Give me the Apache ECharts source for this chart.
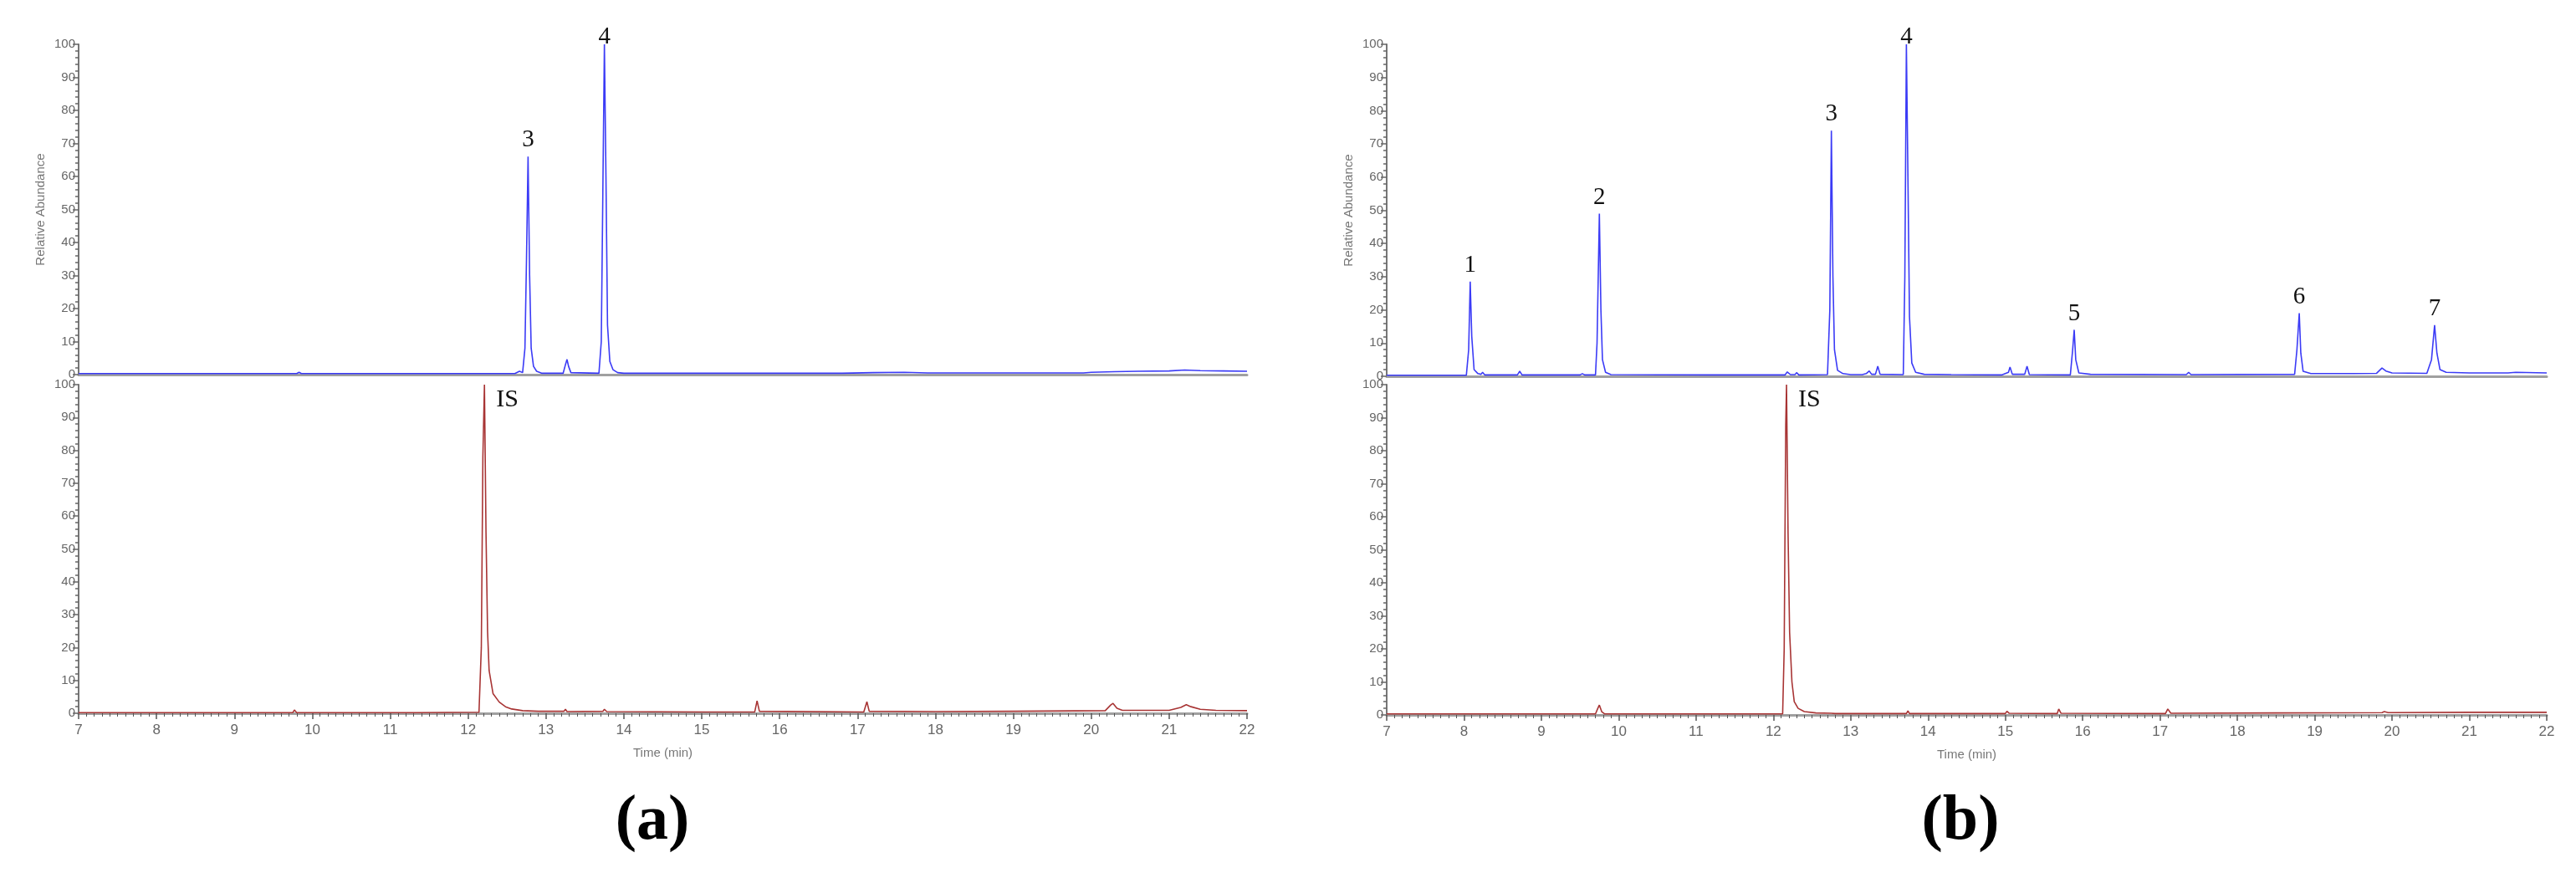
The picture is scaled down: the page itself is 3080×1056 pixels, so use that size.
<!DOCTYPE html>
<html>
<head>
<meta charset="utf-8">
<script src="https://cdn.jsdelivr.net/npm/echarts@6/dist/echarts.min.js"></script>
<style>
  html, body { margin: 0; padding: 0; background: #fff; }
  #chart { width: 3080px; height: 1056px; }
</style>
</head>
<body>
<div id="chart"></div>
<script>
// time (min), relative abundance (%)
var traceATop = [
  [7.00,0.3],[8.25,0.3],[8.27,0.7],[8.30,0.3],[9.80,0.3],[9.83,0.7],[9.86,0.3],
  [12.60,0.3],[12.66,1.0],[12.70,0.6],[12.73,8],[12.75,35],[12.77,66],[12.79,30],[12.81,8],
  [12.84,2.5],[12.88,1.0],[12.95,0.4],[13.22,0.4],[13.25,3],[13.27,4.6],[13.29,2.5],[13.32,0.6],
  [13.68,0.4],[13.71,10],[13.73,55],[13.75,100],[13.77,60],[13.79,15],[13.82,4],[13.86,1.5],
  [13.92,0.6],[14.00,0.4],[15.10,0.4],[16.80,0.4],[17.20,0.6],[17.60,0.7],[17.90,0.5],
  [19.90,0.5],[20.00,0.7],[20.30,0.9],[20.60,1.0],[21.00,1.1],[21.20,1.4],[21.40,1.2],
  [21.70,1.1],[22.00,1.0]
];
var traceABottom = [
  [7.00,0.2],[8.25,0.2],[8.27,0.6],[8.30,0.2],[8.47,0.2],[8.49,0.5],[8.51,0.2],
  [9.75,0.2],[9.77,1.0],[9.80,0.2],[11.30,0.2],[11.32,0.5],[11.34,0.2],
  [12.14,0.3],[12.17,20],[12.19,78],[12.21,100],[12.23,55],[12.25,25],[12.27,13],[12.32,6],
  [12.40,3.4],[12.48,2],[12.56,1.3],[12.70,0.8],[12.90,0.6],[13.23,0.6],[13.25,1.2],[13.27,0.5],
  [13.73,0.6],[13.75,1.2],[13.78,0.5],[15.05,0.4],[15.07,0.8],[15.10,0.4],
  [15.68,0.4],[15.71,3.8],[15.74,0.6],[17.08,0.4],[17.12,3.5],[17.15,0.6],
  [18.00,0.5],[19.00,0.6],[20.18,0.8],[20.25,2.5],[20.28,3.0],[20.33,1.5],[20.40,0.9],
  [21.00,0.9],[21.15,1.8],[21.22,2.6],[21.28,2.0],[21.40,1.2],[21.60,0.9],[22.00,0.8]
];
var traceBTop = [
  [7.00,0.3],[8.03,0.3],[8.06,8],[8.08,28.5],[8.10,12],[8.13,2],[8.18,0.8],[8.22,0.6],[8.24,1.2],
  [8.27,0.4],[8.69,0.4],[8.72,1.5],[8.75,0.4],[9.50,0.4],[9.53,0.8],[9.56,0.4],
  [9.70,0.4],[9.72,10],[9.75,49],[9.77,20],[9.79,5],[9.83,1.2],[9.90,0.5],
  [11.20,0.4],[11.22,0.8],[11.24,0.4],[11.32,0.4],[11.34,0.7],[11.36,0.4],
  [12.15,0.4],[12.18,1.3],[12.22,0.5],[12.28,0.5],[12.30,1.1],[12.33,0.4],
  [12.70,0.5],[12.73,20],[12.75,74],[12.77,30],[12.79,8],[12.83,1.8],[12.90,0.8],[13.00,0.5],
  [13.15,0.5],[13.20,0.8],[13.24,1.6],[13.27,0.6],[13.32,0.6],[13.35,3.0],[13.38,0.6],
  [13.68,0.5],[13.70,30],[13.72,100],[13.74,60],[13.76,18],[13.79,4],[13.84,1.2],[13.95,0.6],
  [14.30,0.5],[14.95,0.4],[15.04,1.2],[15.06,2.8],[15.09,0.6],[15.25,0.6],[15.28,3.0],[15.31,0.5],
  [15.84,0.4],[15.87,8],[15.89,14],[15.91,5],[15.95,1.0],[16.10,0.6],
  [17.34,0.5],[17.37,1.2],[17.40,0.5],[18.74,0.6],[18.77,8],[18.80,19],[18.82,7],[18.85,1.5],
  [18.95,0.8],[19.50,0.8],[19.80,0.9],[19.87,2.5],[19.92,1.6],[20.00,1.0],
  [20.45,0.9],[20.51,5],[20.55,15.4],[20.58,7],[20.62,2],[20.70,1.2],[21.00,1.0],
  [21.50,1.0],[21.60,1.2],[22.00,1.0]
];
var traceBBottom = [
  [7.00,0.3],[9.70,0.3],[9.73,2],[9.75,3.0],[9.78,1],[9.82,0.3],
  [12.12,0.3],[12.14,20],[12.16,88],[12.17,100],[12.19,55],[12.21,25],[12.24,10],[12.27,4],
  [12.29,3.8],[12.32,2],[12.40,1],[12.55,0.6],[12.75,0.5],[12.77,0.9],[12.80,0.4],
  [13.72,0.4],[13.74,1.2],[13.76,0.4],[15.00,0.4],[15.02,1.1],[15.05,0.5],
  [15.67,0.4],[15.69,1.8],[15.72,0.5],[17.07,0.4],[17.10,1.8],[17.14,0.5],
  [18.50,0.6],[19.87,0.7],[19.90,1.0],[19.95,0.7],[21.00,0.8],[22.00,0.8]
];

// peak labels: [text, time, apex]
var peakLabelsA = [['3', 12.77, 66], ['4', 13.75, 100]];
var peakLabelsB = [['1', 8.08, 28.5], ['2', 9.75, 49], ['3', 12.75, 74], ['4', 13.72, 100],
  ['5', 15.89, 14], ['6', 18.80, 19], ['7', 20.55, 15.4]];
var isLabelA = [['IS', 12.21, 100]];
var isLabelB = [['IS', 12.17, 100]];

var yTicks = [0, 100, 10];
var xTicks = [7, 22, 1];
var panelNames = ['a', 'b'];

var blue = '#3b3bf6';
var red = '#a83434';
var serif = 'Liberation Serif';
var sans = 'Liberation Sans';

var myChart = echarts.init(document.getElementById('chart'));

var grids = [
  { left: 94, width: 1397, top: 53, height: 395 },
  { left: 94, width: 1397, top: 460, height: 393 },
  { left: 1658, width: 1387, top: 53, height: 397 },
  { left: 1658, width: 1387, top: 460, height: 395 }
];

function xAxisFor(i, bottom) {
  return {
    type: 'value', gridIndex: i, min: xTicks[0], max: xTicks[1], interval: xTicks[2],
    name: bottom ? 'Time (min)' : '',
    nameLocation: 'middle', nameGap: 40,
    nameTextStyle: { color: '#777', fontSize: 15, fontFamily: sans },
    axisLine: { show: true, onZero: false, lineStyle: { color: '#a0a0a0', width: 3 } },
    axisTick: { show: bottom, length: 7, lineStyle: { color: '#555', width: 1.5 } },
    minorTick: { show: bottom, splitNumber: 10, length: 4, lineStyle: { color: '#555', width: 1 } },
    axisLabel: { show: bottom, color: '#666', fontSize: 17, fontFamily: sans, margin: 12 },
    splitLine: { show: false }
  };
}

function yAxisFor(i, top) {
  return {
    type: 'value', gridIndex: i, min: yTicks[0], max: yTicks[1], interval: yTicks[2],
    name: top ? 'Relative Abundance' : '',
    nameLocation: 'middle', nameGap: 38,
    nameTextStyle: { color: '#777', fontSize: 15, fontFamily: sans },
    axisLine: { show: true, lineStyle: { color: '#777', width: 2 } },
    axisTick: { show: true, length: 7, lineStyle: { color: '#666', width: 1.5 } },
    minorTick: { show: true, splitNumber: 5, length: 4, lineStyle: { color: '#666', width: 1.5 } },
    axisLabel: { color: '#666', fontSize: 15, fontFamily: sans, margin: 4 },
    splitLine: { show: false }
  };
}

function peakMarks(list) {
  return list.map(function (p) {
    return {
      coord: [p[1], p[2]],
      label: { formatter: p[0], distance: p[2] >= 100 ? -6 : 5 }
    };
  });
}

function isMarks(list) {
  return list.map(function (p) {
    return { coord: [p[1], p[2]], label: { formatter: p[0] } };
  });
}

function traceSeries(i, data, color, marks, isLabel) {
  var mp = marks ? {
    symbol: 'circle', symbolSize: 0, silent: true,
    label: { show: true, position: 'top', color: '#111', fontSize: 29, fontFamily: serif },
    data: peakMarks(marks)
  } : {
    symbol: 'circle', symbolSize: 0, silent: true,
    label: { show: true, position: 'right', distance: 14, offset: [0, 18],
      color: '#111', fontSize: 30, fontFamily: serif },
    data: isMarks(isLabel)
  };
  return {
    type: 'line', xAxisIndex: i, yAxisIndex: i, data: data,
    showSymbol: false, smooth: false, animation: false,
    lineStyle: { color: color, width: 1.6 },
    markPoint: mp
  };
}

var option = {
  backgroundColor: '#fff',
  animation: false,
  title: panelNames.map(function (n, k) {
    return {
      text: '{p|(}{b|' + n + '}{p|)}',
      left: k === 0 ? 775 : 2339, top: 940, textAlign: 'center',
      textStyle: {
        rich: {
          p: { fontFamily: serif, fontSize: 76, color: '#000' },
          b: { fontFamily: serif, fontSize: 76, fontWeight: 'bold', color: '#000' }
        }
      }
    };
  }),
  grid: grids,
  xAxis: [xAxisFor(0, false), xAxisFor(1, true), xAxisFor(2, false), xAxisFor(3, true)],
  yAxis: [yAxisFor(0, true), yAxisFor(1, false), yAxisFor(2, true), yAxisFor(3, false)],
  series: [
    traceSeries(0, traceATop, blue, peakLabelsA),
    traceSeries(1, traceABottom, red, null, isLabelA),
    traceSeries(2, traceBTop, blue, peakLabelsB),
    traceSeries(3, traceBBottom, red, null, isLabelB)
  ]
};

myChart.setOption(option);
</script>
</body>
</html>
